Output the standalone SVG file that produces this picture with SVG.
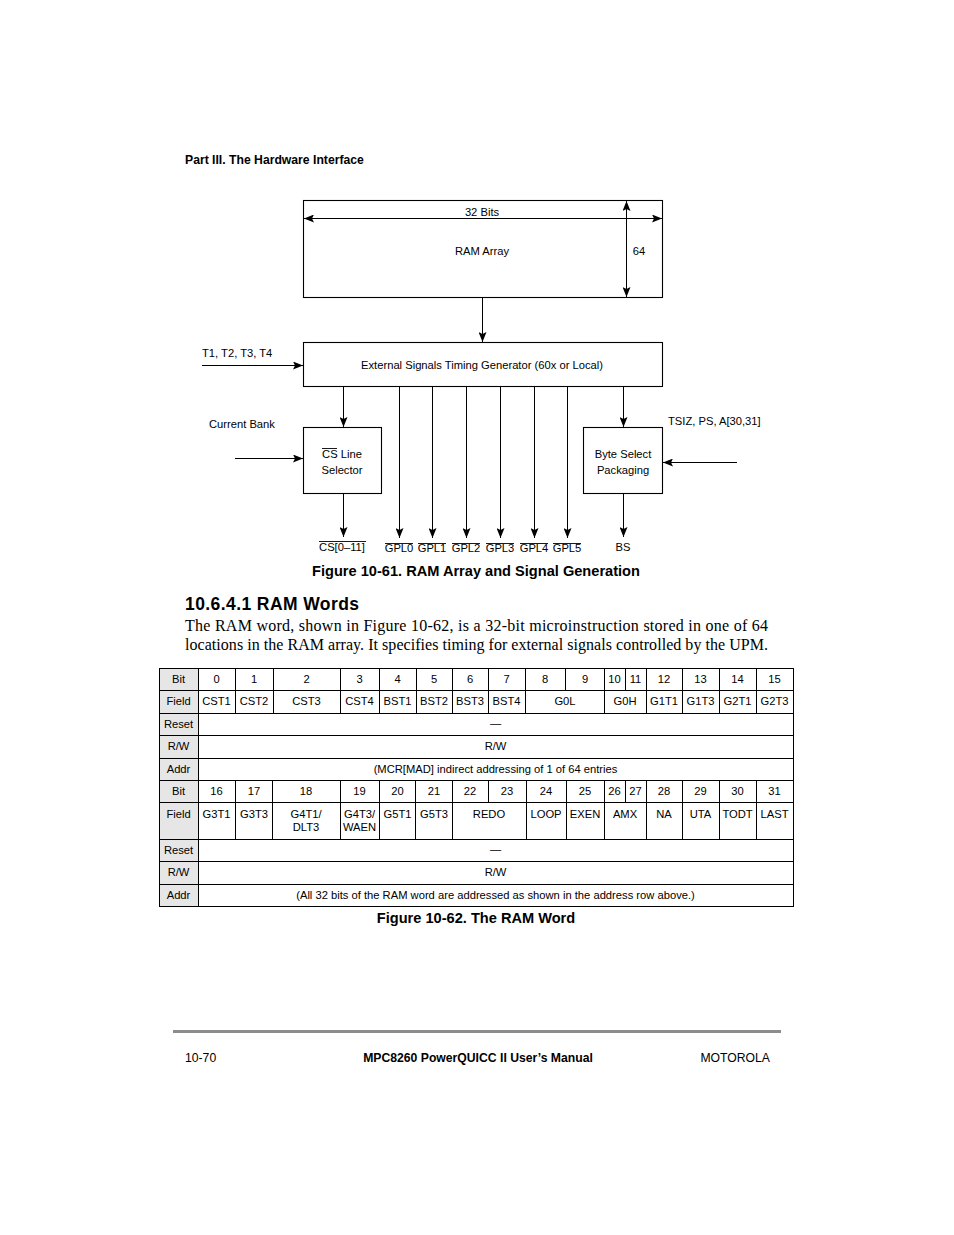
<svg xmlns="http://www.w3.org/2000/svg" width="954" height="1235" viewBox="0 0 954 1235">
<style>
text{font-family:"Liberation Sans",Arial,sans-serif;fill:#000}
.s{font-size:11.2px}
.m{text-anchor:middle}
.b{font-weight:bold}
.box{fill:#fff;stroke:#000;stroke-width:1.1}
.ln{stroke:#000;stroke-width:1;fill:none}
.ol{stroke:#000;stroke-width:0.9}
.lab{fill:#e6e6e6}
.t{font-size:11.2px;text-anchor:middle}
.grid line{stroke:#000;stroke-width:1}
.serif{font-family:"Liberation Serif","Times New Roman",serif;font-size:16px}
</style>
<defs>
<marker id="ah" viewBox="0 0 10 8" refX="10" refY="4" markerWidth="10" markerHeight="8" markerUnits="userSpaceOnUse" orient="auto-start-reverse">
<path d="M0,0 L10,4 L0,8 L2,4 Z" fill="#000"/>
</marker>
</defs>
<rect width="954" height="1235" fill="#fff"/>

<text x="185" y="164" class="b" font-size="12.2">Part III. The Hardware Interface</text>

<g id="ram-array">
<rect x="303.5" y="200.5" width="359" height="97" class="box"/>
<text x="482" y="216" class="s m">32 Bits</text>
<text x="482" y="255" class="s m">RAM Array</text>
<text x="639" y="255" class="s m">64</text>
</g>
<g id="timing-gen">
<rect x="303.5" y="342.5" width="359" height="44" class="box"/>
<text x="482" y="369" class="s m">External Signals Timing Generator (60x or Local)</text>
</g>
<g id="cs-selector">
<rect x="303.5" y="427.5" width="78" height="66" class="box"/>
<text x="342" y="458" class="s m">CS Line</text>
<line x1="322" y1="448.5" x2="337" y2="448.5" class="ol"/>
<text x="342" y="474" class="s m">Selector</text>
</g>
<g id="byte-select">
<rect x="583.5" y="427.5" width="79" height="66" class="box"/>
<text x="623" y="458" class="s m">Byte Select</text>
<text x="623" y="474" class="s m">Packaging</text>
</g>

<g id="connectors">
<line x1="304" y1="218.5" x2="662" y2="218.5" class="ln" marker-start="url(#ah)" marker-end="url(#ah)"/>
<line x1="626.5" y1="201" x2="626.5" y2="297" class="ln" marker-start="url(#ah)" marker-end="url(#ah)"/>
<line x1="482.5" y1="298" x2="482.5" y2="342" class="ln" marker-end="url(#ah)"/>
<line x1="202" y1="365.5" x2="303" y2="365.5" class="ln" marker-end="url(#ah)"/>
<line x1="343.5" y1="387" x2="343.5" y2="427" class="ln" marker-end="url(#ah)"/>
<line x1="623.5" y1="387" x2="623.5" y2="427" class="ln" marker-end="url(#ah)"/>
<line x1="235" y1="458.5" x2="303" y2="458.5" class="ln" marker-end="url(#ah)"/>
<line x1="737" y1="462.5" x2="663" y2="462.5" class="ln" marker-end="url(#ah)"/>
<line x1="343.5" y1="494" x2="343.5" y2="537" class="ln" marker-end="url(#ah)"/>
<line x1="623.5" y1="494" x2="623.5" y2="537" class="ln" marker-end="url(#ah)"/>
<line x1="399.5" y1="387" x2="399.5" y2="538" class="ln" marker-end="url(#ah)"/>
<line x1="432.5" y1="387" x2="432.5" y2="538" class="ln" marker-end="url(#ah)"/>
<line x1="466.5" y1="387" x2="466.5" y2="538" class="ln" marker-end="url(#ah)"/>
<line x1="500.5" y1="387" x2="500.5" y2="538" class="ln" marker-end="url(#ah)"/>
<line x1="534.5" y1="387" x2="534.5" y2="538" class="ln" marker-end="url(#ah)"/>
<line x1="567.5" y1="387" x2="567.5" y2="538" class="ln" marker-end="url(#ah)"/>
</g>

<g id="signal-labels">
<text x="202" y="357" class="s">T1, T2, T3, T4</text>
<text x="209" y="428" class="s">Current Bank</text>
<text x="668" y="425" class="s">TSIZ, PS, A[30,31]</text>
<text x="342" y="551" class="s m">CS[0–11]</text>
<line x1="319" y1="541.5" x2="366" y2="541.5" class="ol"/>
<text x="399" y="552" class="s m">GPL0</text>
<text x="432" y="552" class="s m">GPL1</text>
<text x="466" y="552" class="s m">GPL2</text>
<text x="500" y="552" class="s m">GPL3</text>
<text x="534" y="552" class="s m">GPL4</text>
<text x="567" y="552" class="s m">GPL5</text>
<line x1="385" y1="543.5" x2="413" y2="543.5" class="ol"/>
<line x1="418" y1="543.5" x2="446" y2="543.5" class="ol"/>
<line x1="452" y1="543.5" x2="480" y2="543.5" class="ol"/>
<line x1="486" y1="543.5" x2="514" y2="543.5" class="ol"/>
<line x1="520" y1="543.5" x2="548" y2="543.5" class="ol"/>
<line x1="553" y1="543.5" x2="581" y2="543.5" class="ol"/>
<text x="623" y="551" class="s m">BS</text>
</g>

<text x="476" y="576" class="b m" font-size="14.6">Figure 10-61. RAM Array and Signal Generation</text>
<text x="185" y="610" class="b" font-size="17.5" textLength="174" lengthAdjust="spacing">10.6.4.1   RAM Words</text>
<text x="185" y="631" class="serif" textLength="583" lengthAdjust="spacing">The RAM word, shown in Figure 10-62, is a 32-bit microinstruction stored in one of 64</text>
<text x="185" y="650" class="serif" textLength="583" lengthAdjust="spacing">locations in the RAM array. It specifies timing for external signals controlled by the UPM.</text>

<g id="ram-word-table">
<rect x="159.5" y="668.5" width="39" height="238" class="lab"/>
<rect x="159.5" y="668.5" width="634" height="238" fill="none" stroke="#000" stroke-width="1"/>
<g class="grid">
<line x1="159" y1="690.5" x2="794" y2="690.5"/>
<line x1="159" y1="713.5" x2="794" y2="713.5"/>
<line x1="159" y1="735.5" x2="794" y2="735.5"/>
<line x1="159" y1="758.5" x2="794" y2="758.5"/>
<line x1="159" y1="780.5" x2="794" y2="780.5"/>
<line x1="159" y1="802.5" x2="794" y2="802.5"/>
<line x1="159" y1="839.5" x2="794" y2="839.5"/>
<line x1="159" y1="861.5" x2="794" y2="861.5"/>
<line x1="159" y1="884.5" x2="794" y2="884.5"/>
<line x1="198.5" y1="668" x2="198.5" y2="907"/>
<line x1="235.5" y1="668" x2="235.5" y2="713"/>
<line x1="273.5" y1="668" x2="273.5" y2="713"/>
<line x1="340.5" y1="668" x2="340.5" y2="713"/>
<line x1="379.5" y1="668" x2="379.5" y2="713"/>
<line x1="416.5" y1="668" x2="416.5" y2="713"/>
<line x1="452.5" y1="668" x2="452.5" y2="713"/>
<line x1="488.5" y1="668" x2="488.5" y2="713"/>
<line x1="525.5" y1="668" x2="525.5" y2="713"/>
<line x1="565.5" y1="668" x2="565.5" y2="690"/>
<line x1="604.5" y1="668" x2="604.5" y2="713"/>
<line x1="625.5" y1="668" x2="625.5" y2="690"/>
<line x1="646.5" y1="668" x2="646.5" y2="713"/>
<line x1="682.5" y1="668" x2="682.5" y2="713"/>
<line x1="719.5" y1="668" x2="719.5" y2="713"/>
<line x1="756.5" y1="668" x2="756.5" y2="713"/>
<line x1="235.5" y1="780" x2="235.5" y2="839"/>
<line x1="272.5" y1="780" x2="272.5" y2="839"/>
<line x1="340.5" y1="780" x2="340.5" y2="839"/>
<line x1="379.5" y1="780" x2="379.5" y2="839"/>
<line x1="415.5" y1="780" x2="415.5" y2="839"/>
<line x1="452.5" y1="780" x2="452.5" y2="839"/>
<line x1="488.5" y1="780" x2="488.5" y2="802"/>
<line x1="526.5" y1="780" x2="526.5" y2="839"/>
<line x1="566.5" y1="780" x2="566.5" y2="839"/>
<line x1="604.5" y1="780" x2="604.5" y2="839"/>
<line x1="625.5" y1="780" x2="625.5" y2="802"/>
<line x1="646.5" y1="780" x2="646.5" y2="839"/>
<line x1="682.5" y1="780" x2="682.5" y2="839"/>
<line x1="719.5" y1="780" x2="719.5" y2="839"/>
<line x1="756.5" y1="780" x2="756.5" y2="839"/>
</g>
<g class="labels">
<text x="178.5" y="683" class="t">Bit</text>
<text x="178.5" y="705" class="t">Field</text>
<text x="178.5" y="728" class="t">Reset</text>
<text x="178.5" y="750" class="t">R/W</text>
<text x="178.5" y="773" class="t">Addr</text>
<text x="178.5" y="795" class="t">Bit</text>
<text x="178.5" y="818" class="t">Field</text>
<text x="178.5" y="854" class="t">Reset</text>
<text x="178.5" y="876" class="t">R/W</text>
<text x="178.5" y="899" class="t">Addr</text>
</g>
<g class="bits1">
<text x="216.5" y="683" class="t">0</text>
<text x="254" y="683" class="t">1</text>
<text x="306.5" y="683" class="t">2</text>
<text x="359.5" y="683" class="t">3</text>
<text x="397.5" y="683" class="t">4</text>
<text x="434" y="683" class="t">5</text>
<text x="470" y="683" class="t">6</text>
<text x="506.5" y="683" class="t">7</text>
<text x="545" y="683" class="t">8</text>
<text x="585" y="683" class="t">9</text>
<text x="614.5" y="683" class="t">10</text>
<text x="635.5" y="683" class="t">11</text>
<text x="664" y="683" class="t">12</text>
<text x="700.5" y="683" class="t">13</text>
<text x="737.5" y="683" class="t">14</text>
<text x="774.5" y="683" class="t">15</text>
</g>
<g class="fields1">
<text x="216.5" y="705" class="t">CST1</text>
<text x="254" y="705" class="t">CST2</text>
<text x="306.5" y="705" class="t">CST3</text>
<text x="359.5" y="705" class="t">CST4</text>
<text x="397.5" y="705" class="t">BST1</text>
<text x="434" y="705" class="t">BST2</text>
<text x="470" y="705" class="t">BST3</text>
<text x="506.5" y="705" class="t">BST4</text>
<text x="565" y="705" class="t">G0L</text>
<text x="625" y="705" class="t">G0H</text>
<text x="664" y="705" class="t">G1T1</text>
<text x="700.5" y="705" class="t">G1T3</text>
<text x="737.5" y="705" class="t">G2T1</text>
<text x="774.5" y="705" class="t">G2T3</text>
</g>
<text x="495.5" y="727" class="t">—</text>
<text x="495.5" y="750" class="t">R/W</text>
<text x="495.5" y="773" class="t">(MCR[MAD] indirect addressing of 1 of 64 entries</text>
<g class="bits2">
<text x="216.5" y="795" class="t">16</text>
<text x="254" y="795" class="t">17</text>
<text x="306" y="795" class="t">18</text>
<text x="359.5" y="795" class="t">19</text>
<text x="397.5" y="795" class="t">20</text>
<text x="434" y="795" class="t">21</text>
<text x="470" y="795" class="t">22</text>
<text x="507" y="795" class="t">23</text>
<text x="546" y="795" class="t">24</text>
<text x="585" y="795" class="t">25</text>
<text x="614.5" y="795" class="t">26</text>
<text x="635.5" y="795" class="t">27</text>
<text x="664" y="795" class="t">28</text>
<text x="700.5" y="795" class="t">29</text>
<text x="737.5" y="795" class="t">30</text>
<text x="774.5" y="795" class="t">31</text>
</g>
<g class="fields2">
<text x="216.5" y="818" class="t">G3T1</text>
<text x="254" y="818" class="t">G3T3</text>
<text x="306" y="818" class="t">G4T1/</text>
<text x="306" y="831" class="t">DLT3</text>
<text x="359.5" y="818" class="t">G4T3/</text>
<text x="359.5" y="831" class="t">WAEN</text>
<text x="397.5" y="818" class="t">G5T1</text>
<text x="434" y="818" class="t">G5T3</text>
<text x="489" y="818" class="t">REDO</text>
<text x="546" y="818" class="t">LOOP</text>
<text x="585" y="818" class="t">EXEN</text>
<text x="625" y="818" class="t">AMX</text>
<text x="664" y="818" class="t">NA</text>
<text x="700.5" y="818" class="t">UTA</text>
<text x="737.5" y="818" class="t">TODT</text>
<text x="774.5" y="818" class="t">LAST</text>
</g>
<text x="495.5" y="853" class="t">—</text>
<text x="495.5" y="876" class="t">R/W</text>
<text x="495.5" y="899" class="t">(All 32 bits of the RAM word are addressed as shown in the address row above.)</text>
</g>

<text x="476" y="923" class="b m" font-size="14.6">Figure 10-62. The RAM Word</text>

<rect x="173" y="1030" width="608" height="3" fill="#8c8c8c"/>
<text x="185" y="1062" font-size="12.2">10-70</text>
<text x="478" y="1062" class="b m" font-size="12.2">MPC8260 PowerQUICC II User’s Manual</text>
<text x="770" y="1062" font-size="12.2" text-anchor="end">MOTOROLA</text>
</svg>
